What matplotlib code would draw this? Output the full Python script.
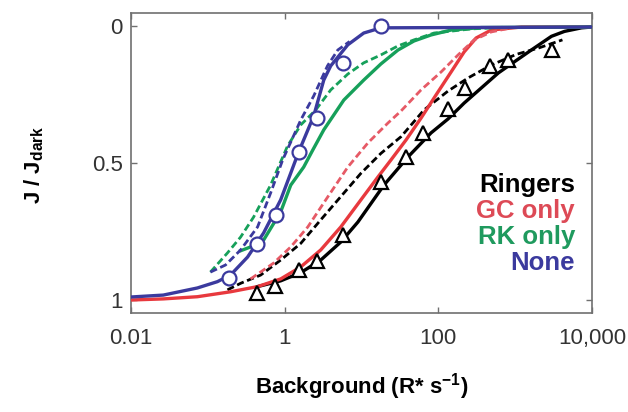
import matplotlib
matplotlib.use('Agg')
import matplotlib.pyplot as plt

plt.rcParams['font.family'] = ['Liberation Sans', 'DejaVu Sans']
plt.rcParams['mathtext.fontset'] = 'custom'
plt.rcParams['mathtext.rm'] = 'Liberation Sans'
plt.rcParams['mathtext.bf'] = 'Liberation Sans:bold'

# measured points (background R*/s, J/Jdark)
none_x = [0.186, 0.431, 0.763, 1.54, 2.62, 5.71, 17.9]
none_y = [0.920, 0.797, 0.691, 0.459, 0.336, 0.135, 0.0]
ringers_x = [0.431, 0.751, 1.52, 2.66, 5.71, 17.9, 38.0, 62.8, 133, 224, 475, 815, 3060]
ringers_y = [0.973, 0.947, 0.889, 0.857, 0.764, 0.570, 0.477, 0.391, 0.302, 0.225, 0.146, 0.121, 0.086]

# model curves
none_fit_x = [0.01, 0.0263, 0.0731, 0.133, 0.197, 0.329, 0.532, 0.887, 1.20, 1.52, 2.39, 3.23,
              3.98, 6.64, 10.7, 17.9, 10000]
none_fit_y = [0.989, 0.982, 0.956, 0.933, 0.909, 0.843, 0.755, 0.634, 0.536, 0.459, 0.327, 0.196,
              0.144, 0.067, 0.024, 0.005, 0.002]
none_alt_x = [0.108, 0.170, 0.267, 0.444, 0.656, 0.942, 1.62, 2.39, 3.61, 4.92, 7.0]
none_alt_y = [0.898, 0.872, 0.817, 0.733, 0.609, 0.488, 0.342, 0.254, 0.144, 0.086, 0.055]

rk_fit_x = [0.267, 0.418, 0.532, 0.887, 1.20, 1.77, 2.32, 3.23, 5.89, 10.7, 17.9, 29.9, 48.3,
            80.5, 147, 362, 10000]
rk_fit_y = [0.82, 0.799, 0.781, 0.678, 0.580, 0.514, 0.452, 0.378, 0.269, 0.196, 0.137, 0.086,
            0.053, 0.031, 0.013, 0.004, 0.002]
rk_alt_x = [0.108, 0.180, 0.267, 0.394, 0.656, 1.09, 1.62, 2.54, 3.98, 6.64, 10.7, 17.9, 29.9,
            48.3, 88.1, 268, 700]
rk_alt_y = [0.898, 0.828, 0.770, 0.697, 0.580, 0.437, 0.360, 0.305, 0.232, 0.174, 0.133, 0.104,
            0.071, 0.049, 0.024, 0.009, 0.003]

gc_fit_x = [0.01, 0.0263, 0.0731, 0.197, 0.444, 0.887, 1.62, 2.95, 5.38, 9.82, 16.4, 24.2,
            38.0, 59.6, 93.6, 147, 217, 311, 489, 1205, 10000]
gc_fit_y = [1.0, 0.996, 0.988, 0.970, 0.951, 0.923, 0.879, 0.817, 0.733, 0.634, 0.550, 0.488,
            0.415, 0.335, 0.250, 0.166, 0.093, 0.042, 0.013, 0.002, 0.002]
gc_alt_x = [0.360, 0.718, 1.20, 2.00, 3.64, 6.64, 12.1, 22.1, 32.7, 59.6, 109, 181, 293, 489, 892]
gc_alt_y = [0.923, 0.865, 0.806, 0.733, 0.623, 0.514, 0.426, 0.353, 0.309, 0.232, 0.166, 0.104,
            0.049, 0.020, 0.005]

ring_fit_x = [0.444, 0.887, 1.62, 2.95, 5.38, 8.98, 19.6, 40.3, 80.5, 134, 217, 604,
              1627, 2970, 4390, 7320, 10000]
ring_fit_y = [0.951, 0.930, 0.900, 0.854, 0.788, 0.715, 0.580, 0.477, 0.389, 0.338,
              0.280, 0.170, 0.086, 0.036, 0.018, 0.005, 0.002]
ring_alt_x = [0.180, 0.267, 0.486, 0.887, 1.62, 2.95, 5.38, 9.82, 17.9, 32.7, 65.3, 134, 245,
              489, 1037, 2009, 4130]
ring_alt_y = [0.963, 0.939, 0.909, 0.854, 0.793, 0.707, 0.622, 0.537, 0.464, 0.403, 0.305,
              0.236, 0.188, 0.141, 0.102, 0.079, 0.049]

xticks = [0.01, 1, 100, 10000]
xticklabels = ['0.01', '1', '100', '10,000']
yticks = [0, 0.5, 1]
yticklabels = ['0', '0.5', '1']

legend_names = ['Ringers', 'GC only', 'RK only', 'None']

c_black = 'black'
c_red = '#e8393e'
c_red2 = '#e65a66'
c_green = '#16a05a'
c_blue = '#3b3a9e'
legend_colors = [c_black, '#dd4a56', '#1f9a5e', c_blue]

fig = plt.figure(figsize=(6.28, 4.12), dpi=100)
ax = fig.add_axes([0.2086, 0.2403, 0.734, 0.727])

lw = 2.4
dlw = 2.0
dash = (2.6, 1.3)
ax.plot(ring_fit_x, ring_fit_y, color=c_black, lw=lw, zorder=2)
ax.plot(ring_alt_x, ring_alt_y, color=c_black, lw=dlw, dashes=dash, zorder=2)
ax.plot(gc_fit_x, gc_fit_y, color=c_red, lw=lw, zorder=3)
ax.plot(gc_alt_x, gc_alt_y, color=c_red2, lw=dlw, dashes=dash, zorder=3)
ax.plot(rk_fit_x, rk_fit_y, color=c_green, lw=lw, zorder=4)
ax.plot(rk_alt_x, rk_alt_y, color=c_green, lw=dlw, dashes=dash, zorder=4)
ax.plot(none_fit_x, none_fit_y, color=c_blue, lw=lw, zorder=5)
ax.plot(none_alt_x, none_alt_y, color=c_blue, lw=dlw, dashes=dash, zorder=5)

ax.plot(ringers_x, ringers_y, ls='none', marker='^', ms=10, mfc='white', mec='black', mew=1.6,
        zorder=6)
ax.plot(none_x, none_y, ls='none', marker='o', ms=10, mfc='white', mec=c_blue, mew=1.6, zorder=6)

ax.set_xscale('log')
ax.set_xlim(0.01, 10000)
ax.set_ylim(1.0475, -0.0475)
ax.set_xticks(xticks)
ax.set_xticklabels(xticklabels)
ax.minorticks_off()
ax.set_yticks(yticks)
ax.set_yticklabels(yticklabels)

for s in ax.spines.values():
    s.set_color('#707070')
    s.set_linewidth(1.2)
ax.tick_params(direction='in', length=4, width=1, colors='#707070', labelcolor='#333333',
               labelsize=16, top=True, right=True)
ax.tick_params(axis='x', pad=11)
ax.tick_params(axis='y', pad=6)

ax.set_xlabel(r'Background (R* s$^{\mathbf{-1}}$)', fontsize=16, fontweight='bold', labelpad=16)
fig.text(0.055, 0.60, r'J / J$_{\mathbf{dark}}$', fontsize=16, fontweight='bold', rotation=90,
         ha='center', va='center')

for i, (name, col) in enumerate(zip(legend_names, legend_colors)):
    ax.text(0.963, 0.427 - i * 0.087, name, color=col, fontsize=18.5, fontweight='bold',
            ha='right', va='center', transform=ax.transAxes)

fig.savefig('out.png', dpi=100)
